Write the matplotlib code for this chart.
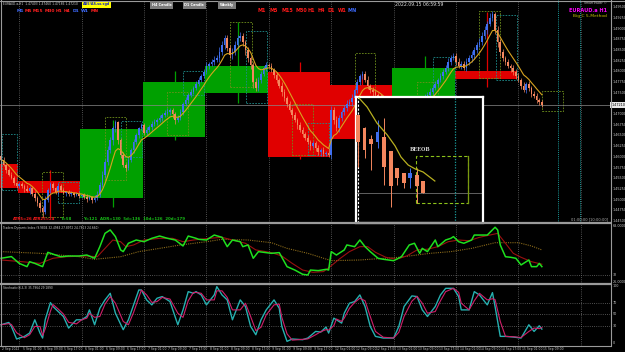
import numpy as np
import pandas as pd
import matplotlib
matplotlib.use("Agg")
import matplotlib.pyplot as plt
from matplotlib.patches import Rectangle
from matplotlib.lines import Line2D

# ---------------- DATA ----------------
# H1 closes per trading day (EURAUD)
close_sep02 = [1.4593, 1.4581, 1.4569, 1.4558, 1.4551, 1.4539, 1.4532]
close_sep05 = [1.4536, 1.4532, 1.4525, 1.4520, 1.4527, 1.4513, 1.4504, 1.4492, 1.4480, 1.4471,
               1.4499, 1.4522, 1.4536, 1.4527, 1.4518, 1.4532, 1.4522, 1.4515, 1.4518, 1.4513,
               1.4515, 1.4511, 1.4513, 1.4508]
close_sep06 = [1.4511, 1.4506, 1.4501, 1.4506, 1.4499, 1.4504, 1.4511, 1.4534, 1.4558, 1.4588,
               1.4616, 1.4639, 1.4667, 1.4681, 1.4639, 1.4604, 1.4581, 1.4574, 1.4593, 1.4616,
               1.4635, 1.4651, 1.4667, 1.4674]
close_sep07 = [1.4656, 1.4663, 1.4670, 1.4677, 1.4681, 1.4686, 1.4691, 1.4698, 1.4703, 1.4705,
               1.4710, 1.4700, 1.4686, 1.4691, 1.4705, 1.4724, 1.4733, 1.4745, 1.4752, 1.4761,
               1.4770, 1.4780, 1.4789, 1.4799]
close_sep08 = [1.4813, 1.4817, 1.4822, 1.4827, 1.4831, 1.4845, 1.4862, 1.4878, 1.4855, 1.4838,
               1.4845, 1.4862, 1.4878, 1.4883, 1.4869, 1.4850, 1.4831, 1.4815, 1.4775, 1.4761,
               1.4780, 1.4794, 1.4808, 1.4815]
close_sep09 = [1.4813, 1.4803, 1.4792, 1.4780, 1.4766, 1.4752, 1.4738, 1.4724, 1.4710, 1.4698,
               1.4686, 1.4674, 1.4663, 1.4653, 1.4644, 1.4635, 1.4625, 1.4632, 1.4621, 1.4611,
               1.4616, 1.4607, 1.4609, 1.4604]
close_sep12 = [1.4710, 1.4686, 1.4667, 1.4691, 1.4705, 1.4714, 1.4724, 1.4728, 1.4738, 1.4756,
               1.4775, 1.4789, 1.4794, 1.4780, 1.4766, 1.4756, 1.4752, 1.4745, 1.4740, 1.4733,
               1.4724, 1.4714, 1.4710, 1.4705]
close_sep13 = [1.4714, 1.4710, 1.4719, 1.4705, 1.4698, 1.4710, 1.4721, 1.4714, 1.4705, 1.4719,
               1.4733, 1.4724, 1.4738, 1.4745, 1.4752, 1.4761, 1.4770, 1.4780, 1.4789, 1.4799,
               1.4808, 1.4822, 1.4831, 1.4836]
close_sep14 = [1.4822, 1.4813, 1.4817, 1.4808, 1.4822, 1.4831, 1.4838, 1.4850, 1.4862, 1.4869,
               1.4883, 1.4897, 1.4911, 1.4925, 1.4934, 1.4897, 1.4869, 1.4845, 1.4831, 1.4822,
               1.4813, 1.4808, 1.4799, 1.4789]
close_sep15 = [1.4780, 1.4766, 1.4756, 1.4770, 1.4761, 1.4747, 1.4742, 1.4733, 1.4728, 1.4721]
first_open = 1.4602

# upper / lower wick lengths in pips
wick_up = [4, 6, 3, 5, 7, 4, 3,
           5, 6, 4, 8, 5, 3, 6, 4, 7, 5, 9, 6, 4, 5, 3, 6, 4, 5, 3, 4, 6, 3, 5, 4,
           3, 5, 6, 4, 3, 7, 8, 6, 9, 7, 10, 8, 6, 5, 4, 6, 8, 5, 7, 4, 6, 5, 3, 6,
           5, 7, 4, 6, 8, 5, 6, 4, 7, 9, 5, 4, 6, 8, 7, 5, 6, 4, 7, 5, 8, 6, 5, 7,
           9, 6, 8, 10, 7, 12, 9, 6, 8, 7, 10, 8, 6, 9, 7, 5, 8, 6, 7, 9, 6, 8, 5, 6,
           5, 7, 4, 6, 5, 8, 6, 5, 7, 4, 6, 5, 8, 6, 4, 7, 5, 6, 4, 7, 5, 6, 4, 12,
           8, 6, 9, 7, 5, 8, 10, 7, 9, 6, 8, 5, 7, 6, 8, 5, 7, 6, 5, 8, 6, 7, 5, 6,
           8, 5, 7, 6, 9, 5, 7, 6, 8, 7, 5, 6, 8, 7, 9, 6, 8, 5, 7, 6, 8, 9, 7, 8,
           6, 9, 7, 8, 10, 7, 9, 8, 6, 10, 8, 9, 7, 11, 8, 6, 9, 7, 8, 6, 7, 5, 8, 6,
           7, 5, 8, 6, 7, 5, 6, 7, 4, 5]
wick_dn = [5, 3, 6, 4, 3, 5, 6,
           4, 5, 7, 3, 6, 5, 8, 6, 9, 12, 5, 4, 6, 5, 4, 7, 5, 3, 6, 4, 5, 6, 3, 4,
           5, 4, 6, 3, 7, 5, 4, 6, 5, 8, 6, 7, 12, 9, 8, 7, 5, 6, 4, 5, 7, 4, 6, 5,
           6, 4, 5, 7, 4, 6, 5, 8, 5, 6, 7, 9, 8, 5, 4, 6, 5, 7, 4, 6, 5, 4, 6, 5,
           6, 7, 5, 8, 6, 9, 7, 10, 8, 6, 9, 7, 8, 6, 10, 12, 8, 9, 14, 8, 6, 7, 5, 6,
           6, 5, 8, 7, 6, 9, 7, 8, 6, 7, 5, 8, 6, 7, 5, 6, 8, 5, 7, 6, 9, 5, 6, 5,
           10, 8, 7, 9, 6, 8, 7, 6, 8, 5, 7, 6, 8, 5, 7, 6, 9, 5, 7, 6, 8, 5, 7, 6,
           6, 7, 5, 8, 6, 7, 9, 6, 8, 5, 7, 6, 8, 5, 7, 6, 5, 7, 6, 8, 5, 7, 6, 5,
           7, 6, 8, 5, 7, 6, 8, 9, 7, 6, 8, 7, 9, 6, 8, 10, 12, 9, 7, 8, 6, 9, 7, 8,
           6, 8, 5, 7, 6, 8, 5, 6, 7, 5]

# D1 candle overlay (start bar of each day, open, close, high, low)
d1_start = [-17, 7, 31, 55, 79, 103, 127, 151, 175, 199]
d1_open = [1.4583, 1.4543, 1.4504, 1.4646, 1.4749, 1.4799, 1.4768, 1.4740, 1.4801]
d1_close = [1.4527, 1.4515, 1.4665, 1.4775, 1.4813, 1.4600, 1.4642, 1.4808, 1.4782]
d1_high = [1.4600, 1.4569, 1.4686, 1.4800, 1.4915, 1.4822, 1.4794, 1.4836, 1.4939]
d1_low = [1.4520, 1.4459, 1.4483, 1.4639, 1.4726, 1.4595, 1.4590, 1.4690, 1.4763]

# dashed range boxes (start bar, end bar, low, high, kind)
rng_b0 = [0.4, 15.8, 21.9, 40.0, 46.2, 63.8, 70.0, 88.0, 94.2, 112.0, 118.0, 136.0, 160.0, 166.0, 184.0, 190.4, 208.0]
rng_b1 = [6.2, 23.8, 30.0, 48.1, 54.2, 71.9, 78.0, 96.5, 102.3, 120.0, 126.0, 144.0, 168.0, 174.6, 192.0, 198.5, 216.0]
rng_lo = [1.4522, 1.4459, 1.4492, 1.4546, 1.4600, 1.4651, 1.4745, 1.4763, 1.4726, 1.4604, 1.4604, 1.4740, 1.4700, 1.4700, 1.4785, 1.4780, 1.4707]
rng_hi = [1.4653, 1.4565, 1.4541, 1.4693, 1.4684, 1.4752, 1.4801, 1.4915, 1.4894, 1.4724, 1.4679, 1.4843, 1.4775, 1.4834, 1.4941, 1.4932, 1.4754]
rng_kind = ["t", "o", "t", "o", "t", "o", "t", "o", "t", "o", "t", "o", "o", "t", "o", "t", "o"]

# future session markers (bars)
session_marks = [214.2, 222.8]

# time axis labels every 8 bars
time_labels = ["2 Sep 2022", "5 Sep 01:00", "5 Sep 09:00", "5 Sep 17:00", "6 Sep 01:00", "6 Sep 09:00",
               "6 Sep 17:00", "7 Sep 01:00", "7 Sep 09:00", "7 Sep 17:00", "8 Sep 01:00", "8 Sep 09:00",
               "8 Sep 17:00", "9 Sep 01:00", "9 Sep 09:00", "9 Sep 17:00", "12 Sep 01:00", "12 Sep 09:00",
               "12 Sep 17:00", "13 Sep 01:00", "13 Sep 09:00", "13 Sep 17:00", "14 Sep 01:00",
               "14 Sep 09:00", "14 Sep 17:00", "15 Sep 01:00", "15 Sep 09:00"]

# Traders Dynamic Index
tdi_bars = [0, 4, 7, 10, 11, 13, 16, 18, 21, 23, 26, 30, 33, 36, 38, 40, 42, 44, 46, 47, 49, 52, 55, 58,
            61, 64, 67, 70, 72, 75, 76, 79, 82, 85, 87, 89, 92, 93, 95, 97, 99, 104, 107, 110, 113, 116,
            118, 119, 122, 125, 126, 127, 129, 132, 133, 136, 138, 140, 142, 145, 147, 151, 154, 157, 159,
            161, 162, 164, 167, 168, 171, 173, 174, 176, 178, 181, 182, 185, 187, 190, 191, 192, 194, 196,
            198, 200, 203, 204, 206, 207, 208]
tdi_rsi = [43.8, 45.0, 40.2, 37.9, 41.4, 40.2, 37.9, 48.0, 46.1, 44.9, 45.4, 45.4, 46.1, 43.8, 52.0, 61.4,
           63.8, 59.1, 49.7, 48.5, 54.4, 56.7, 55.5, 57.9, 59.5, 57.9, 56.7, 52.5, 59.5, 57.9, 57.2, 56.7,
           60.2, 58.6, 52.0, 56.7, 55.5, 52.0, 53.2, 43.8, 48.5, 47.3, 47.8, 37.9, 35.5, 32.5, 32.0, 35.5,
           35.1, 36.0, 35.5, 48.5, 46.1, 49.7, 53.2, 52.0, 56.7, 52.0, 48.5, 43.8, 43.1, 42.1, 44.9, 53.2,
           54.4, 47.3, 50.8, 48.5, 56.7, 52.0, 56.7, 57.9, 59.1, 55.5, 54.4, 56.7, 60.2, 60.2, 60.2, 65.7,
           63.8, 53.2, 44.9, 44.5, 43.8, 39.1, 42.6, 37.9, 37.9, 40.2, 37.9]
tdi_sig_bars = [0, 8, 15, 20, 25, 33, 37, 40, 43, 46, 48, 51, 55, 61, 66, 70, 74, 80, 85, 89, 94, 98, 104,
                108, 112, 116, 120, 124, 127, 130, 134, 138, 141, 144, 148, 152, 156, 160, 164, 168, 172,
                176, 180, 184, 188, 191, 194, 197, 200, 204, 208]
tdi_sig = [42.6, 41.4, 40.2, 43.8, 44.9, 45.4, 44.9, 50.8, 56.7, 55.5, 52.0, 53.2, 56.7, 57.9, 57.9, 55.5,
           56.7, 57.9, 58.6, 56.7, 54.4, 49.7, 47.8, 45.4, 40.2, 35.5, 33.9, 34.4, 38.5, 43.1, 48.5, 52.0,
           52.0, 48.0, 44.5, 43.1, 45.4, 49.7, 50.2, 52.0, 55.5, 56.7, 56.2, 58.6, 60.2, 61.4, 54.4, 47.3,
           44.5, 41.4, 39.6]
tdi_base_bars = [0, 15, 30, 36, 46, 53, 61, 69, 79, 85, 95, 104, 110, 118, 127, 138, 153, 165, 173, 181,
                 190, 199, 204, 208]
tdi_base = [48.5, 47.3, 44.9, 43.1, 44.9, 48.5, 50.8, 53.2, 55.5, 57.2, 56.7, 54.8, 50.8, 47.3, 42.1, 42.6,
            44.5, 47.3, 48.5, 50.8, 54.8, 54.8, 52.5, 49.7]

# Stochastic
st_bars = [0, 3, 4, 6, 9, 11, 13, 15, 16, 17, 19, 20, 22, 24, 26, 29, 31, 33, 34, 36, 38, 40, 42, 44, 47,
           49, 51, 53, 54, 56, 58, 60, 62, 65, 68, 70, 72, 74, 75, 77, 79, 82, 83, 85, 87, 89, 92, 94, 96,
           98, 100, 102, 105, 107, 108, 110, 112, 116, 118, 121, 123, 125, 126, 128, 129, 131, 132, 134,
           136, 138, 140, 142, 144, 147, 151, 153, 155, 158, 160, 162, 164, 167, 169, 171, 174, 176, 177,
           180, 182, 184, 187, 189, 190, 192, 194, 197, 200, 203, 205, 207, 208]
st_main = [32.0, 36.0, 29.1, 7.0, 11.6, 17.4, 40.7, 17.4, 8.7, 40.7, 70.9, 64.0, 55.2, 46.5, 26.2, 40.7,
           40.7, 46.5, 58.1, 32.0, 61.0, 75.6, 87.2, 52.3, 23.3, 40.7, 66.9, 93.0, 93.0, 75.6, 66.9, 78.5,
           81.4, 72.7, 32.0, 58.1, 90.1, 87.2, 90.1, 84.3, 66.9, 84.3, 98.8, 84.3, 75.6, 40.7, 75.6, 64.0,
           29.1, 14.5, 40.7, 58.1, 75.6, 61.0, 29.1, 2.9, 7.0, 5.8, 8.7, 20.3, 19.2, 27.9, 17.4, 43.6, 40.7,
           34.9, 52.3, 69.8, 72.7, 84.3, 64.0, 29.1, 11.6, 8.7, 8.7, 29.1, 64.0, 82.6, 81.4, 58.1, 46.5,
           64.0, 84.3, 95.9, 95.9, 81.4, 58.1, 58.1, 90.1, 84.3, 66.9, 88.4, 64.0, 11.6, 11.6, 10.5, 8.7,
           32.0, 20.3, 30.2, 24.4]
st_signal = [32.0, 34.0, 32.5, 18.0, 9.3, 14.5, 29.0, 29.0, 13.0, 24.7, 55.8, 67.5, 59.6, 50.8, 36.3, 33.5,
             40.7, 43.6, 52.3, 45.0, 46.5, 68.3, 81.4, 69.8, 37.8, 32.0, 53.8, 80.0, 93.0, 84.3, 71.2, 72.7,
             80.0, 77.0, 52.3, 45.0, 74.1, 88.7, 88.7, 87.2, 75.6, 75.6, 91.5, 91.5, 80.0, 58.1, 58.1, 69.8,
             46.5, 21.8, 27.6, 49.4, 66.9, 68.3, 45.0, 16.0, 5.0, 6.4, 7.2, 14.5, 19.8, 23.5, 22.6, 30.5,
             42.1, 37.8, 43.6, 61.0, 71.2, 78.5, 74.1, 46.5, 20.3, 10.1, 8.7, 18.9, 46.5, 73.3, 82.0, 69.8,
             52.3, 55.2, 74.1, 90.1, 95.9, 88.7, 69.8, 58.1, 74.1, 87.2, 75.6, 77.6, 76.2, 37.8, 11.6, 11.0,
             9.6, 20.3, 26.2, 25.2, 27.3]
st_levels = [70, 50, 30]

# zoomed inset candles (last sessions)
ins_open = [1.49322, 1.48984, 1.48698, 1.48620, 1.48750, 1.48386, 1.47944, 1.47814, 1.47684, 1.47762, 1.47606]
ins_close = [1.48620, 1.48412, 1.48568, 1.48880, 1.47970, 1.47476, 1.47684, 1.47554, 1.47814, 1.47476, 1.47294]
ins_high = [1.49322, 1.49010, 1.48802, 1.49192, 1.49244, 1.48386, 1.47944, 1.47814, 1.47944, 1.47944, 1.47606]
ins_low = [1.47970, 1.48204, 1.47892, 1.48464, 1.47502, 1.46930, 1.47502, 1.47424, 1.47424, 1.47034, 1.47294]
ins_ma_x = [0.15, 1.4, 2.9, 4.5, 5.7, 6.6, 7.7, 8.8, 10.0, 11.8]
ins_ma = [1.49764, 1.49530, 1.49114, 1.48802, 1.48516, 1.48230, 1.48022, 1.47918, 1.47840, 1.47606]
ins_zone = (8.9, 16.9, 1.47034, 1.48256)

# ---------------- BUILD ----------------
closes = np.array(close_sep02 + close_sep05 + close_sep06 + close_sep07 + close_sep08 +
                  close_sep09 + close_sep12 + close_sep13 + close_sep14 + close_sep15)
bars = np.arange(len(closes))
opens = np.concatenate([[first_open], closes[:-1]])
highs = np.maximum(opens, closes) + np.array(wick_up) * 1e-4
lows = np.minimum(opens, closes) - np.array(wick_dn) * 1e-4
ma = pd.Series(closes).ewm(span=8, adjust=False).mean().values

W, H = 625, 352
fig = plt.figure(figsize=(W / 100, H / 100), dpi=100)
fig.patch.set_facecolor("black")

XL = (-0.385, 234.2)
P_TOP, PPX = 1.4967, 0.000234
BULL, BEAR = "#3f6ff0", "#f4875e"
GRID = "#6a6a6a"
LBL = "#c8c8c8"


def add_ax(y0, y1):
    a = fig.add_axes([0.0, 1 - y1 / H, 610 / W, (y1 - y0) / H])
    a.set_facecolor("black")
    a.set_xlim(*XL)
    for s in a.spines.values():
        s.set_visible(False)
    a.set_xticks([])
    a.set_yticks([])
    return a


def ftext(x, y, s, **kw):
    kw.setdefault("va", "center")
    kw.setdefault("ha", "left")
    fig.text(x / W, 1 - y / H, s, **kw)


# ----- main price panel -----
ax = add_ax(0, 222.5)
ax.set_ylim(P_TOP - PPX * 222.5, P_TOP)
for d in d1_start[1:] + [223]:
    ax.axvline(d, color=GRID, lw=0.6, ls=(0, (1, 1.6)), zorder=0.5)

for i in range(len(d1_open)):
    b0 = max(d1_start[i], -1) - 0.5
    b1 = d1_start[i + 1] - 0.5
    c = "#00a000" if d1_close[i] > d1_open[i] else "#e00000"
    lo, hi = min(d1_open[i], d1_close[i]), max(d1_open[i], d1_close[i])
    ax.add_patch(Rectangle((b0, lo), b1 - b0, hi - lo, facecolor=c, edgecolor="none", zorder=1))
    mid = d1_start[i] + 12
    if mid > 0:
        ax.vlines(mid, d1_low[i], d1_high[i], color=c, lw=0.9, zorder=1.2)

for b0, b1, lo, hi, k in zip(rng_b0, rng_b1, rng_lo, rng_hi, rng_kind):
    c = "#6f8f1c" if k == "o" else "#1f8c8c"
    ax.add_patch(Rectangle((b0, lo), b1 - b0, hi - lo, facecolor="none", edgecolor=c,
                           lw=0.6, ls=(0, (2, 1.5)), zorder=2))

for b in session_marks:
    ax.axvline(b, color="#1a9a9a", lw=0.7, ls=(0, (1, 1.2)), zorder=2)

ax.axhline(closes[-1], color="#8a8a8a", lw=0.5, zorder=2.5)

cols = np.where(closes >= opens, BULL, BEAR)
ax.vlines(bars, lows, highs, colors=cols, lw=0.5, zorder=4)
body_lo = np.minimum(opens, closes)
body_h = np.maximum(np.abs(closes - opens), 0.00006)
ax.bar(bars, body_h, bottom=body_lo, width=0.62, color=cols, linewidth=0, zorder=5)
ax.plot(bars, ma, color="#d8a320", lw=0.8, zorder=6)

# price scale labels (the regular label under the current-price tag is hidden)
ytr = ax.get_yaxis_transform()
for p in np.arange(1.4450, 1.49501, 0.0025):
    if abs(p - closes[-1]) < 0.0012:
        continue
    ax.text(1.004, p, f"{p:.5f}", transform=ytr, color=LBL, fontsize=2.4,
            va="center", ha="left", clip_on=False)
ax.text(1.002, closes[-1], f"{closes[-1]:.5f}", transform=ytr, color="black", fontsize=2.4,
        va="center", ha="left", clip_on=False, zorder=10,
        bbox=dict(boxstyle="square,pad=0.25", fc="#e8e8e8", ec="none"))

# ----- TDI panel -----
axt = add_ax(224, 283.5)
axt.set_ylim(26.0, 68.0)
for d in d1_start[1:] + [223]:
    axt.axvline(d, color=GRID, lw=0.6, ls=(0, (1, 1.6)), zorder=0.5)
axt.axhline(32, color=GRID, lw=0.6, ls=(0, (1, 1.6)))
axt.plot(tdi_base_bars, tdi_base, color="#8a6a1a", lw=0.8, ls=(0, (1, 1)), zorder=2)
axt.plot(tdi_sig_bars, tdi_sig, color="#9a1010", lw=0.8, zorder=3)
axt.plot(tdi_bars, tdi_rsi, color="#1ee01e", lw=1.1, zorder=4)
yt = axt.get_yaxis_transform()
for v, s in [(66.8, "68.0000"), (32, "32"), (27.2, "26.0000")]:
    axt.text(1.004, v, s, transform=yt, color=LBL, fontsize=2.4, va="center", clip_on=False)

# ----- Stochastic panel -----
axs = add_ax(285, 345.5)
axs.set_ylim(-4.39, 101.75)
for d in d1_start[1:] + [223]:
    axs.axvline(d, color=GRID, lw=0.6, ls=(0, (1, 1.6)), zorder=0.5)
for lv in st_levels:
    axs.axhline(lv, color=GRID, lw=0.6, ls=(0, (1, 1.6)))
axs.plot(st_bars, st_main, color="#26b0b0", lw=1.0, zorder=3)
axs.plot(st_bars, st_signal, color="#d0206a", lw=0.8, zorder=4)
ys = axs.get_yaxis_transform()
for v in [100] + st_levels + [0]:
    axs.text(1.004, v, str(v), transform=ys, color=LBL, fontsize=2.4, va="center", clip_on=False)

# ----- inset -----
axi = fig.add_axes([356 / W, 1 - 222.5 / H, 127 / W, 125.5 / H])
axi.set_facecolor("black")
axi.set_xlim(-0.31, 19.2)
axi.set_ylim(1.46527, 1.4979)
axi.set_xticks([])
axi.set_yticks([])
for s in axi.spines.values():
    s.set_color("white")
    s.set_linewidth(1.6)
ix = np.arange(len(ins_open))
io, ic = np.array(ins_open), np.array(ins_close)
icol = np.where(ic >= io, BULL, BEAR)
axi.vlines(ix, ins_low, ins_high, colors=icol, lw=0.7, zorder=3)
axi.bar(ix, np.abs(ic - io), bottom=np.minimum(io, ic), width=0.6, color=icol, linewidth=0, zorder=4)
axi.plot(ins_ma_x, ins_ma, color="#b8b020", lw=0.9, zorder=5)
axi.axhline(ins_close[-1], color="#707070", lw=0.6, zorder=1)
axi.axvline(0, color="white", lw=0.8, ls=(0, (2, 1.5)), zorder=2)
axi.axvline(14.9, color="#1a9a9a", lw=0.9, ls=(0, (1, 1.2)), zorder=2)
z0, z1, zl, zh = ins_zone
axi.add_patch(Rectangle((z0, zl), z1 - z0, zh - zl, fill=False, ec="#8cc21a", lw=0.8,
                        ls=(0, (3, 2)), zorder=2))
axi.plot([z1, z1], [zl, zh], color="#7a9a10", lw=0.9, zorder=2)
axi.text(9.6, 1.48412, "BEEOB", color="#d8d8d8", fontsize=3.6, family="DejaVu Serif",
         fontweight="bold", ha="center", va="center")

# ----- frame lines -----
def fline(x0, y0, x1, y1, c="#9a9a9a", lw=1.0):
    fig.add_artist(Line2D([x0 / W, x1 / W], [1 - y0 / H, 1 - y1 / H], color=c, lw=lw))

fline(0, 223.2, 610, 223.2, lw=1.6)
fline(0, 284.2, 610, 284.2, lw=1.6)
fline(0, 345.8, 610, 345.8, lw=0.8)
fline(610.5, 0, 610.5, 346, lw=0.8)
fline(0.5, 0, 0.5, 346, lw=0.8)
fline(0, 0.5, 625, 0.5, lw=0.8)

# ----- time axis -----
for k, lab in enumerate(time_labels):
    bx = k * 8
    px = (bx - XL[0]) / (XL[1] - XL[0]) * 610
    ftext(px + 1, 348.6, lab, color=LBL, fontsize=2.2)

# ----- overlay texts -----
ftext(3, 4, "EURAUD.a,H1  1.47403 1.47460 1.47186 1.47210", color="#d0d0d0", fontsize=2.2)
ftext(83, 4.5, "AB5/AS.sx.sgd", color="#1020c0", fontsize=2.4, fontweight="bold",
      bbox=dict(boxstyle="square,pad=0.3", fc="#ffff00", ec="none"))
row1 = [("M1", 17, "#3d6bff"), ("M5", 25, "#ff2020"), ("M15", 33, "#ff2020"), ("M30", 45, "#ff2020"),
        ("H1", 56, "#ff2020"), ("H4", 64, "#ff2020"), ("D1", 73, "#3d6bff"), ("W1", 81, "#3d6bff"),
        ("MN", 91, "#ff2020")]
for s, x, c in row1:
    ftext(x, 10.5, s, color=c, fontsize=3.2, fontweight="bold")
row2 = [("M1", 258), ("M5", 269), ("M15", 281), ("M30", 295), ("H1", 308), ("H4", 318), ("D1", 328),
        ("W1", 338), ("MN", 348)]
for s, x in row2:
    ftext(x, 11, s, color="#3d6bff" if s == "MN" else "#ff1a1a", fontsize=3.5, fontweight="bold")
for s, x in [("H4 Candle", 161.5), ("D1 Candle", 194), ("Weekly", 227)]:
    ftext(x, 5, s, color="white", fontsize=2.5, fontweight="bold", ha="center",
          bbox=dict(boxstyle="square,pad=0.45", fc="#7c7c7c", ec="none"))
ftext(395, 5, "2022.09.15 06:59:59", color="#e0e0e0", fontsize=3.3)
ftext(607, 3.5, "SmartTrader \u00a9", color="#c0c0c0", fontsize=2.2, ha="right")
ftext(607, 10, "EURAUD.a H1", color="#ff00ff", fontsize=3.6, fontweight="bold", ha="right")
ftext(607, 16, "Big C 5-Method", color="#c8c800", fontsize=3.2, ha="right")
ftext(13, 219.5, "ATR5=26", color="#ff1a1a", fontsize=2.8, fontweight="bold")
ftext(33, 219.5, "ATR25=24", color="#ff1a1a", fontsize=2.8, fontweight="bold")
ftext(61, 219.5, "T=58", color="#18c018", fontsize=2.8, fontweight="bold")
ftext(83, 219.5, "Y=121  ADR=130  5d=136  10d=126  20d=179", color="#18c018", fontsize=2.8,
      fontweight="bold")
ftext(608, 219.5, "01:00:00 [10:00:00]", color="#b0b0b0", fontsize=2.6, ha="right")
ftext(3, 227.5, "Traders Dynamic Index (9.9804 32.4984 27.8972 24.7813 24.660)", color="#d0d0d0",
      fontsize=2.1)
ftext(3, 288, "Stochastic(8,3,3) 35.7964 29.1890", color="#d0d0d0", fontsize=2.1)

fig.savefig("out.png", dpi=100, facecolor="black")
